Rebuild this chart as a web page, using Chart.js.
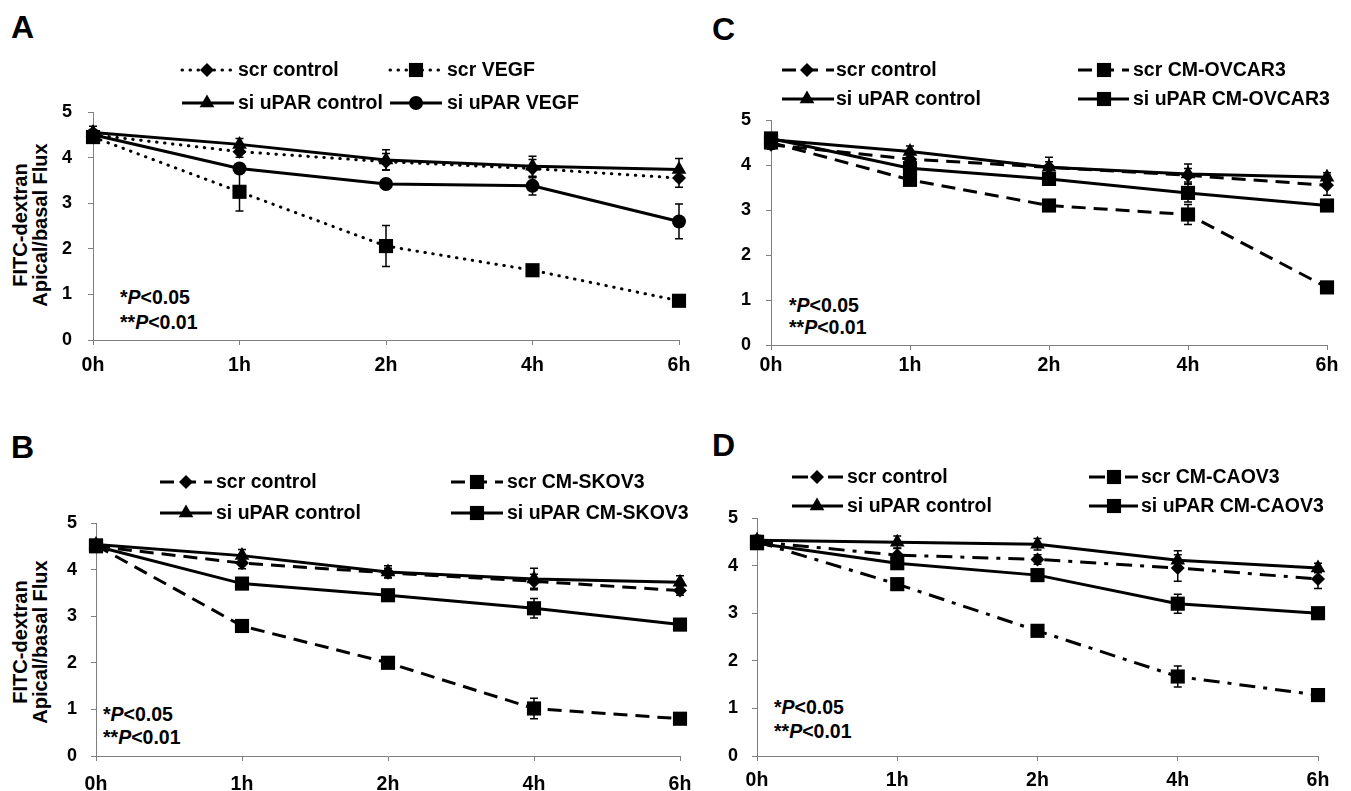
<!DOCTYPE html>
<html>
<head>
<meta charset="utf-8">
<script src="https://cdn.jsdelivr.net/npm/chart.js@4.4.1/dist/chart.umd.min.js"></script>
<style>
  body { margin: 0; background: #fff; width: 1351px; height: 791px; overflow: hidden; position: relative;
         font-family: "Liberation Sans", Arial, sans-serif; font-weight: bold; color: #000; }
  canvas { position: absolute; }
  .letter { position: absolute; font-size: 32px; line-height: 32px; }
  .pval { position: absolute; font-size: 19.5px; line-height: 19.5px; white-space: nowrap; }
  .ytitle { position: absolute; font-size: 20px; line-height: 19.5px; text-align: center; white-space: nowrap;
            transform: translate(-50%, -50%) rotate(-90deg); }
</style>
</head>
<body>
<div class="letter" style="left:11px;top:11px">A</div>
<div class="letter" style="left:11px;top:431px">B</div>
<div class="letter" style="left:712px;top:13px">C</div>
<div class="letter" style="left:712px;top:429px">D</div>

<div class="ytitle" style="left:30px;top:225px">FITC-dextran<br>Apical/basal Flux</div>
<div class="ytitle" style="left:30px;top:642px">FITC-dextran<br>Apical/basal Flux</div>

<div class="pval" style="left:120px;top:288px">*<i>P</i>&lt;0.05</div>
<div class="pval" style="left:120px;top:313px">**<i>P</i>&lt;0.01</div>
<div class="pval" style="left:103px;top:705px">*<i>P</i>&lt;0.05</div>
<div class="pval" style="left:103px;top:728px">**<i>P</i>&lt;0.01</div>
<div class="pval" style="left:789px;top:296px">*<i>P</i>&lt;0.05</div>
<div class="pval" style="left:789px;top:318px">**<i>P</i>&lt;0.01</div>
<div class="pval" style="left:774px;top:698px">*<i>P</i>&lt;0.05</div>
<div class="pval" style="left:774px;top:722px">**<i>P</i>&lt;0.01</div>

<script>
(function () {
  'use strict';

  // ---- data -------------------------------------------------------------
  const hours = ['0h', '1h', '2h', '4h', '6h'];
  const yMin = 0;
  const yMax = 5;
  const yStep = 1;

  // A: VEGF
  const aNames = ['scr control', 'scr VEGF', 'si uPAR control', 'si uPAR VEGF'];
  const aScrControl = [4.50, 4.13, 3.91, 3.76, 3.55];
  const aScrControlErr = [0.08, 0.12, 0.18, 0.20, 0.20];
  const aScrVegf = [4.45, 3.25, 2.06, 1.53, 0.86];
  const aScrVegfErr = [0.12, 0.42, 0.45, 0.08, 0.08];
  const aSiControl = [4.55, 4.29, 3.95, 3.81, 3.74];
  const aSiControlErr = [0.14, 0.13, 0.22, 0.22, 0.24];
  const aSiVegf = [4.50, 3.76, 3.42, 3.38, 2.60];
  const aSiVegfErr = [0.08, 0.10, 0.10, 0.20, 0.38];

  // B: CM-SKOV3
  const bNames = ['scr control', 'scr CM-SKOV3', 'si uPAR control', 'si uPAR CM-SKOV3'];
  const bScrControl = [4.50, 4.14, 3.93, 3.75, 3.55];
  const bScrControlErr = [0.10, 0.12, 0.10, 0.15, 0.10];
  const bScrSkov = [4.52, 2.79, 2.00, 1.02, 0.80];
  const bScrSkovErr = [0.10, 0.08, 0.08, 0.22, 0.10];
  const bSiControl = [4.54, 4.30, 3.95, 3.80, 3.73];
  const bSiControlErr = [0.10, 0.13, 0.13, 0.23, 0.14];
  const bSiSkov = [4.50, 3.70, 3.45, 3.17, 2.82];
  const bSiSkovErr = [0.10, 0.08, 0.08, 0.21, 0.08];

  // C: CM-OVCAR3
  const cNames = ['scr control', 'scr CM-OVCAR3', 'si uPAR control', 'si uPAR CM-OVCAR3'];
  const cScrControl = [4.45, 4.13, 3.95, 3.77, 3.55];
  const cScrControlErr = [0.10, 0.15, 0.12, 0.15, 0.22];
  const cScrOvcar = [4.50, 3.67, 3.10, 2.90, 1.28];
  const cScrOvcarErr = [0.10, 0.10, 0.10, 0.22, 0.08];
  const cSiControl = [4.56, 4.30, 3.95, 3.80, 3.73];
  const cSiControlErr = [0.10, 0.12, 0.22, 0.22, 0.10];
  const cSiOvcar = [4.59, 3.93, 3.69, 3.38, 3.10];
  const cSiOvcarErr = [0.10, 0.10, 0.10, 0.20, 0.08];

  // D: CM-CAOV3
  const dNames = ['scr control', 'scr CM-CAOV3', 'si uPAR control', 'si uPAR CM-CAOV3'];
  const dScrControl = [4.50, 4.22, 4.13, 3.95, 3.72];
  const dScrControlErr = [0.10, 0.15, 0.10, 0.28, 0.20];
  const dScrCaov = [4.50, 3.61, 2.63, 1.67, 1.28];
  const dScrCaovErr = [0.10, 0.08, 0.08, 0.22, 0.08];
  const dSiControl = [4.53, 4.49, 4.45, 4.11, 3.95];
  const dSiControlErr = [0.10, 0.13, 0.12, 0.20, 0.10];
  const dSiCaov = [4.47, 4.05, 3.80, 3.20, 3.00];
  const dSiCaovErr = [0.10, 0.10, 0.10, 0.20, 0.08];

  // ---- look ---------------------------------------------------------------
  const FONT = '"Liberation Sans", Arial, sans-serif';
  const AXIS_GREY = '#7f7f7f';

  const PANELS = [
    { box: [0, 0, 705, 395], area: { left: 93, right: 679, top: 112, bottom: 340 },
      yPad: 16, xPad: 9, dash: [0.5, 7.5], cap: 'round', lastStyle: 'circle', lastRadius: 7,
      legend: { rows: [70, 103], cols: [{ x1: 182, x2: 234, mx: 207, tx: 238 }, { x1: 390, x2: 442, mx: 416, tx: 447 }] },
      names: aNames,
      series: [[aScrControl, aScrControlErr], [aScrVegf, aScrVegfErr], [aSiControl, aSiControlErr], [aSiVegf, aSiVegfErr]] },
    { box: [0, 395, 705, 396], area: { left: 96, right: 680, top: 523, bottom: 756 },
      yPad: 14, xPad: 12, dash: [14, 8], cap: 'butt', lastStyle: 'rect', lastRadius: 10,
      legend: { rows: [482, 513], cols: [{ x1: 160, x2: 212, mx: 186, tx: 216 }, { x1: 451, x2: 503, mx: 477, tx: 507 }] },
      names: bNames,
      series: [[bScrControl, bScrControlErr], [bScrSkov, bScrSkovErr], [bSiControl, bSiControlErr], [bSiSkov, bSiSkovErr]] },
    { box: [705, 0, 646, 395], area: { left: 771, right: 1327, top: 120, bottom: 345 },
      yPad: 15, xPad: 4, dash: [14, 8], cap: 'butt', lastStyle: 'rect', lastRadius: 10,
      legend: { rows: [70, 99], cols: [{ x1: 782, x2: 834, mx: 807, tx: 836 }, { x1: 1078, x2: 1129, mx: 1104, tx: 1133 }] },
      names: cNames,
      series: [[cScrControl, cScrControlErr], [cScrOvcar, cScrOvcarErr], [cSiControl, cSiControlErr], [cSiOvcar, cSiOvcarErr]] },
    { box: [705, 395, 646, 396], area: { left: 757, right: 1318, top: 518, bottom: 756 },
      yPad: 14, xPad: 8, dash: [16, 8, 4, 8], cap: 'butt', lastStyle: 'rect', lastRadius: 10,
      legend: { rows: [477, 506], cols: [{ x1: 792, x2: 843, mx: 817, tx: 847 }, { x1: 1089, x2: 1138, mx: 1114, tx: 1141 }] },
      names: dNames,
      series: [[dScrControl, dScrControlErr], [dScrCaov, dScrCaovErr], [dSiControl, dSiControlErr], [dSiCaov, dSiCaovErr]] },
  ];

  // vertical SEM bars with small caps
  const errorBars = {
    id: 'errorBars',
    afterDatasetsDraw(chart) {
      const ctx = chart.ctx;
      const y = chart.scales.y;
      ctx.save();
      ctx.strokeStyle = '#000';
      ctx.lineWidth = 1.5;
      ctx.setLineDash([]);
      chart.data.datasets.forEach((ds, i) => {
        chart.getDatasetMeta(i).data.forEach((pt, j) => {
          const e = ds.errors[j];
          if (!e) return;
          const top = y.getPixelForValue(ds.data[j] + e);
          const bot = y.getPixelForValue(ds.data[j] - e);
          ctx.beginPath();
          ctx.moveTo(pt.x, top); ctx.lineTo(pt.x, bot);
          ctx.moveTo(pt.x - 4, top); ctx.lineTo(pt.x + 4, top);
          ctx.moveTo(pt.x - 4, bot); ctx.lineTo(pt.x + 4, bot);
          ctx.stroke();
        });
      });
      ctx.restore();
    },
  };

  // two-by-two legend above each plot
  const quadLegend = {
    id: 'quadLegend',
    afterDraw(chart, args, opts) {
      const ctx = chart.ctx;
      chart.data.datasets.forEach((ds, i) => {
        const col = opts.cols[i % 2];
        const y = opts.rows[Math.floor(i / 2)] - opts.oy;
        ctx.save();
        ctx.strokeStyle = '#000';
        ctx.fillStyle = '#000';
        ctx.lineWidth = 3;
        ctx.lineCap = ds.borderCapStyle;
        ctx.setLineDash(ds.borderDash);
        ctx.beginPath();
        ctx.moveTo(col.x1 - opts.ox, y);
        ctx.lineTo(col.x2 - opts.ox, y);
        ctx.stroke();
        ctx.setLineDash([]);
        Chart.helpers.drawPoint(ctx, { pointStyle: ds.pointStyle, radius: ds.pointRadius, rotation: 0, borderWidth: 0 },
          col.mx - opts.ox, y);
        ctx.font = 'bold 19.5px ' + FONT;
        ctx.textBaseline = 'middle';
        ctx.fillText(ds.label, col.tx - opts.ox, y + 1);
        ctx.restore();
      });
    },
  };

  function buildPanel(p) {
    const [bx, by, bw, bh] = p.box;
    const canvas = document.createElement('canvas');
    canvas.width = bw;
    canvas.height = bh;
    canvas.style.left = bx + 'px';
    canvas.style.top = by + 'px';
    document.body.appendChild(canvas);

    const yWidth = p.area.left - bx;
    const xHeight = by + bh - p.area.bottom;
    const marks = [
      { style: 'rectRot', r: 7, scr: true },
      { style: 'rect', r: 10, scr: true },
      { style: 'triangle', r: 8.5, scr: false },
      { style: p.lastStyle, r: p.lastRadius, scr: false },
    ];

    const datasets = p.series.map((s, i) => ({
      label: p.names[i],
      data: s[0],
      errors: s[1],
      borderColor: '#000',
      backgroundColor: '#000',
      borderWidth: 3,
      borderDash: marks[i].scr ? p.dash : [],
      borderCapStyle: marks[i].scr ? p.cap : 'butt',
      pointStyle: marks[i].style,
      pointRadius: marks[i].r,
      pointHoverRadius: marks[i].r,
      pointBackgroundColor: '#000',
      pointBorderColor: '#000',
      pointBorderWidth: 0,
      tension: 0,
      fill: false,
      clip: false,
    }));

    new Chart(canvas, {
      type: 'line',
      data: { labels: hours, datasets: datasets },
      plugins: [errorBars, quadLegend],
      options: {
        responsive: false,
        animation: false,
        devicePixelRatio: 1,
        layout: { padding: { left: 0, top: p.area.top - by, right: bx + bw - p.area.right, bottom: 0 } },
        plugins: {
          legend: { display: false },
          tooltip: { enabled: false },
          quadLegend: { rows: p.legend.rows, cols: p.legend.cols, ox: bx, oy: by },
        },
        scales: {
          x: {
            offset: false,
            grid: { drawOnChartArea: false, drawTicks: true, tickLength: 5, color: AXIS_GREY },
            border: { display: true, color: AXIS_GREY, width: 1 },
            ticks: { color: '#000', padding: p.xPad, maxRotation: 0, autoSkip: false,
                     font: { family: FONT, size: 19.5, weight: 'bold' } },
            afterFit(scale) { scale.height = xHeight; },
          },
          y: {
            min: yMin,
            max: yMax,
            grid: { drawOnChartArea: false, drawTicks: true, tickLength: 5, color: AXIS_GREY },
            border: { display: true, color: AXIS_GREY, width: 1 },
            ticks: { stepSize: yStep, color: '#000', padding: p.yPad,
                     font: { family: FONT, size: 18, weight: 'bold' } },
            afterFit(scale) { scale.width = yWidth; },
          },
        },
      },
    });
  }

  PANELS.forEach(buildPanel);
})();
</script>
</body>
</html>
